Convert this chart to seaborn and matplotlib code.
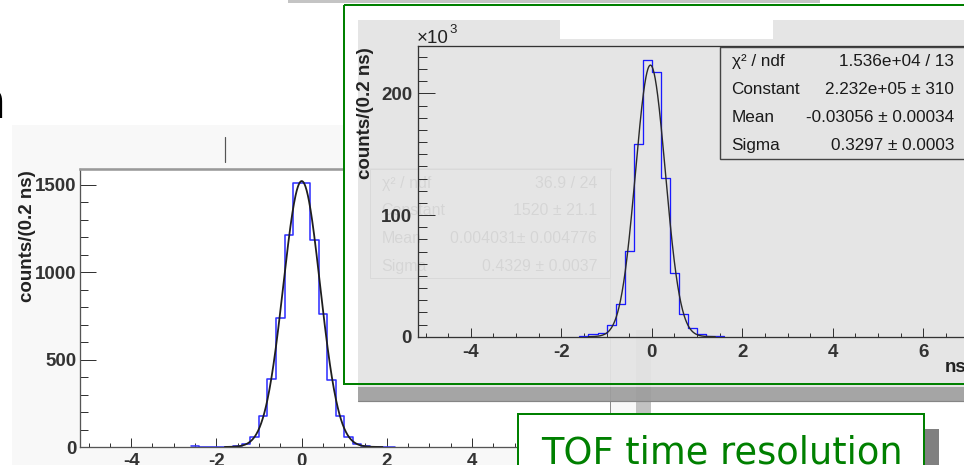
import numpy as np
import matplotlib
matplotlib.use("Agg")
import matplotlib.pyplot as plt
from matplotlib.patches import Rectangle
from matplotlib.ticker import MultipleLocator
import seaborn as sns

sns.set_theme(style="white")
plt.rcParams["font.family"] = ["Liberation Sans", "DejaVu Sans"]
plt.rcParams["axes.unicode_minus"] = False

# ---------------- data ----------------
# Single-counter TOF difference, 0.2 ns bins
left_edges = [-2.6, -2.4, -2.2, -2.0, -1.8, -1.6, -1.4, -1.2, -1.0, -0.8, -0.6, -0.4,
              -0.2, 0.0, 0.2, 0.4, 0.6, 0.8, 1.0, 1.2, 1.4, 1.6, 1.8, 2.0, 2.2]
left_counts = [3, 0, 0, 0, 1, 4, 15, 55, 179, 387, 735, 1211,
               1507, 1507, 1183, 760, 383, 179, 60, 15, 5, 2, 2, 2]
left_const, left_mean, left_sigma = 1520.0, 0.004031, 0.4329
left_stat_names = ["\u03c7\u00b2 / ndf", "Constant", "Mean", "Sigma"]
left_stat_values = ["36.9 / 24", "1520 \u00b1 21.1", "0.004031\u00b1 0.004776", "0.4329 \u00b1 0.0037"]

# Full-sample TOF difference (thousands of counts), 0.2 ns bins
inset_edges = [-1.6, -1.4, -1.2, -1.0, -0.8, -0.6, -0.4, -0.2, 0.0,
               0.2, 0.4, 0.6, 0.8, 1.0, 1.2, 1.4, 1.6]
inset_counts_k = [0.5, 2.0, 3.3, 9.6, 26.9, 70.7, 158.3, 227.4,
                  217.8, 130.7, 52.6, 18.7, 6.9, 2.2, 0.8, 0.6]
inset_const, inset_mean, inset_sigma = 2.232e5, -0.03056, 0.3297
inset_stat_names = ["\u03c7\u00b2 / ndf", "Constant", "Mean", "Sigma"]
inset_stat_values = ["1.536e+04 / 13", "2.232e+05 \u00b1 310", "-0.03056 \u00b1 0.00034", "0.3297 \u00b1 0.0003"]

x_ticks = [-4, -2, 0, 2, 4, 6]
left_y_ticks = [0, 500, 1000, 1500]
inset_y_ticks = [0, 100, 200]
y_title = "counts/(0.2 ns)"
x_title = "ns"
banner = "TOF time resolution"

# ---------------- layout helpers (pixel coordinates) ----------------
W, H = 964, 465
PT = 0.72  # points per pixel at 100 dpi
GREEN = "#008000"
CANVAS = "#e4e4e4"

fig = plt.figure(figsize=(W / 100, H / 100), dpi=100)


def px_axes(x0, y0, x1, y1, z):
    ax = fig.add_axes([x0 / W, 1 - y1 / H, (x1 - x0) / W, (y1 - y0) / H])
    ax.set_zorder(z)
    return ax


def layer(z):
    ax = px_axes(0, 0, W, H, z)
    ax.set_xlim(0, W)
    ax.set_ylim(H, 0)
    ax.axis("off")
    return ax


def gauss(x, c, m, s):
    return c * np.exp(-0.5 * ((x - m) / s) ** 2)


def style_axes(ax, ylen, xlen, pad_y, pad_x):
    ax.set_xlabel("")
    ax.set_ylabel("")
    ax.tick_params(axis="both", which="both", direction="in", colors="#333333",
                   width=1.0 * PT, left=True, bottom=True, top=False, right=False)
    ax.tick_params(axis="y", which="major", length=ylen * PT, pad=pad_y * PT)
    ax.tick_params(axis="y", which="minor", length=ylen * 0.5 * PT)
    ax.tick_params(axis="x", which="major", length=xlen * PT, pad=pad_x * PT)
    ax.tick_params(axis="x", which="minor", length=xlen * 0.5 * PT)
    ax.grid(False)


# ---------------- background slide layer ----------------
bg = layer(0)
bg.add_patch(Rectangle((12, 125), 624, 345, fc="#f8f8f8", ec="none"))
bg.add_patch(Rectangle((636, 330), 15, 140, fc="#c2c2c2", ec="none"))
bg.add_patch(Rectangle((288, 0), 532, 3.5, fc="#c4c4c4", ec="none"))
bg.plot([225, 225], [137, 162], color="#555555", lw=1.2 * PT)
bg.text(6, 118, "n", fontsize=37, family="DejaVu Sans", color="black", ha="right", va="baseline")
bg.text(28, 170, y_title, rotation=90, ha="center", va="top", fontsize=13.5,
        fontweight="bold", color="#222222")

# ---------------- left histogram ----------------
axL = px_axes(80, 169, 610, 447, 1)
axL.set_facecolor("white")
centers_L = [(a + b) / 2 for a, b in zip(left_edges[:-1], left_edges[1:])]
sns.histplot(x=centers_L, weights=left_counts, bins=left_edges, element="step", fill=False,
             color="#3333ff", linewidth=1.6 * PT, ax=axL)
xs_L = np.linspace(-1.8, 1.9, 400)
sns.lineplot(x=xs_L, y=gauss(xs_L, left_const, left_mean, left_sigma), ax=axL,
             color="#1e1e1e", linewidth=1.8 * PT)
axL.set_xlim(-5.2, 7.24)
axL.set_ylim(0, 1589)
axL.set_xticks(x_ticks, labels=[str(t) for t in x_ticks], fontsize=13.5, fontweight="bold", color="#222222")
axL.set_yticks(left_y_ticks, labels=[str(t) for t in left_y_ticks], fontsize=13.5, fontweight="bold", color="#222222")
axL.xaxis.set_minor_locator(MultipleLocator(0.5))
axL.yaxis.set_minor_locator(MultipleLocator(100))
style_axes(axL, ylen=15.5, xlen=9, pad_y=3.3, pad_x=6)
for side, col, lw in [("left", "#555555", 1.3), ("bottom", "#555555", 1.3),
                      ("top", "#9a9a9a", 2.6), ("right", "#8a8a8a", 1.0)]:
    axL.spines[side].set_color(col)
    axL.spines[side].set_linewidth(lw * PT)
    axL.spines[side].set_visible(True)

# stat box of the left histogram
st = layer(2)
st.add_patch(Rectangle((370, 169), 240, 109, fc="white", ec="#555555", lw=1.0 * PT))
for i, (nm, val) in enumerate(zip(left_stat_names, left_stat_values)):
    y = 183 + i * 27.8
    st.text(381.5, y, nm, ha="left", va="center", fontsize=11.5, color="#222222")
    st.text(597, y, val, ha="right", va="center", fontsize=11.5, color="#222222")

# ---------------- inset canvas ----------------
cv = layer(3)
cv.add_patch(Rectangle((343, 5), 640, 15, fc="white", ec="none"))
cv.add_patch(Rectangle((343, 5), 15, 379, fc="white", ec="none"))
cv.add_patch(Rectangle((358, 20), 620, 367, fc=CANVAS, ec="none", alpha=0.93))
cv.add_patch(Rectangle((358, 387), 620, 14, fc="#9e9e9e", ec="none", alpha=0.93))
cv.plot([358, 978], [400.5, 400.5], color="#858585", lw=1.2 * PT)
cv.add_patch(Rectangle((560, 20), 213, 19, fc="white", ec="none"))

# ---------------- inset histogram ----------------
axI = px_axes(418, 46, 973, 336.7, 4)
axI.set_facecolor("none")
centers_I = [(a + b) / 2 for a, b in zip(inset_edges[:-1], inset_edges[1:])]
sns.histplot(x=centers_I, weights=inset_counts_k, bins=inset_edges, element="step", fill=False,
             color="#1a1aff", linewidth=1.3 * PT, ax=axI)
xs_I = np.linspace(-1.4, 1.4, 400)
sns.lineplot(x=xs_I, y=gauss(xs_I, inset_const, inset_mean, inset_sigma) / 1000.0, ax=axI,
             color="#2a2a2a", linewidth=1.4 * PT)
axI.set_xlim(-5.167, 7.098)
axI.set_ylim(0, 238.9)
axI.set_xticks(x_ticks, labels=[str(t) for t in x_ticks], fontsize=13.5, fontweight="bold", color="#222222")
axI.set_yticks(inset_y_ticks, labels=[str(t) for t in inset_y_ticks], fontsize=13.5, fontweight="bold", color="#222222")
axI.xaxis.set_minor_locator(MultipleLocator(0.5))
axI.yaxis.set_minor_locator(MultipleLocator(10))
style_axes(axI, ylen=17, xlen=9, pad_y=6, pad_x=7.5)
for side in ["left", "bottom", "top"]:
    axI.spines[side].set_color("#333333")
    axI.spines[side].set_linewidth(1.3 * PT)
    axI.spines[side].set_visible(True)
axI.spines["right"].set_visible(False)

# ---------------- overlay: stat box, titles, frames ----------------
ov = layer(5)
ov.add_patch(Rectangle((720, 46.7), 260, 112.6, fc=CANVAS, ec="#444444", lw=1.4 * PT))
for i, (nm, val) in enumerate(zip(inset_stat_names, inset_stat_values)):
    y = 61.7 + i * 28.0
    ov.text(731.5, y, nm, ha="left", va="center", fontsize=12.3, color="#1a1a1a")
    ov.text(954, y, val, ha="right", va="center", fontsize=12.3, color="#1a1a1a")

ov.text(417, 43, "\u00d710", ha="left", va="baseline", fontsize=13.5, color="#222222")
ov.text(449, 33, "3", ha="left", va="baseline", fontsize=9.5, color="#222222")
ov.text(365, 47, y_title, rotation=90, ha="center", va="top", fontsize=13.5,
        fontweight="bold", color="#222222")
ov.text(945, 372, x_title, ha="left", va="baseline", fontsize=13.5, fontweight="bold", color="#222222")

ov.add_patch(Rectangle((343.5, 5.5), 650, 378.5, fill=False, ec=GREEN, lw=2.0 * PT))

# banner with drop shadow
ov.add_patch(Rectangle((925, 429), 14, 45, fc="#808080", ec="none"))
ov.add_patch(Rectangle((517.5, 413.5), 406.5, 60, fc="white", ec=GREEN, lw=2.0 * PT))
ov.text(541.5, 463, banner, ha="left", va="baseline", fontsize=26.5, family="DejaVu Sans", color=GREEN)

fig.savefig("out.png", dpi=100)
